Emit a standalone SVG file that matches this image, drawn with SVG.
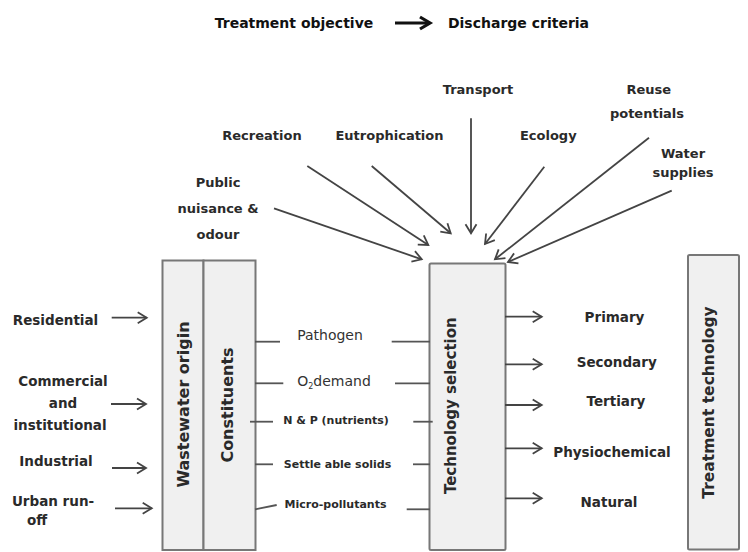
<svg xmlns="http://www.w3.org/2000/svg" width="748" height="552" viewBox="0 0 748 552">
<style>
  text { font-family: "DejaVu Sans", "Liberation Sans", sans-serif; font-weight: bold; fill: #2a2a2a; }
  .title { font-size: 14px; fill: #111; }
  .top { font-size: 13px; text-anchor: middle; }
  .side { font-size: 13.5px; text-anchor: middle; }
  .mid { font-size: 11px; text-anchor: middle; }
  .midn { font-size: 14px; font-weight: normal; text-anchor: middle; fill: #333; }
  .vert { text-anchor: middle; }
  .box { fill: #f0f0f0; stroke: #777; stroke-width: 2; }
  .arr { stroke: #444; stroke-width: 1.8; fill: none; marker-end: url(#head); }
  .ln { stroke: #555; stroke-width: 1.8; fill: none; }
</style>
<defs>
  <marker id="head" markerUnits="userSpaceOnUse" markerWidth="14" markerHeight="14" refX="10" refY="6" orient="auto" viewBox="0 0 14 12">
    <path d="M1,0.5 L10,6 L1,11.5" fill="none" stroke="#444" stroke-width="1.8"/>
  </marker>
  <marker id="bighead" markerUnits="userSpaceOnUse" markerWidth="16" markerHeight="16" refX="12" refY="7" orient="auto" viewBox="0 0 16 14">
    <path d="M2,1 L12,7 L2,13" fill="none" stroke="#111" stroke-width="3.2"/>
  </marker>
</defs>

<g id="title">
  <text class="title" x="294" y="28" text-anchor="middle">Treatment objective</text>
  <line x1="395" y1="23" x2="430" y2="23" stroke="#111" stroke-width="3.2" marker-end="url(#bighead)"/>
  <text class="title" x="518.5" y="28" text-anchor="middle">Discharge criteria</text>
</g>

<g id="node-wastewater-origin">
  <rect class="box" x="162.5" y="260.5" width="41" height="289.5"/>
  <text class="vert" font-size="16" transform="translate(188.5,404.5) rotate(-90)">Wastewater origin</text>
</g>
<g id="node-constituents">
  <rect class="box" x="203.5" y="260.5" width="52" height="289.5"/>
  <text class="vert" font-size="16" transform="translate(232.5,405) rotate(-90)">Constituents</text>
</g>
<g id="node-technology-selection">
  <rect class="box" x="429.5" y="263.5" width="76" height="286.5" rx="1.5"/>
  <text class="vert" font-size="15" transform="translate(456,405.7) rotate(-90)">Technology selection</text>
</g>
<g id="node-treatment-technology">
  <rect class="box" x="688" y="255" width="51" height="294.5" rx="1.5"/>
  <text class="vert" font-size="15.5" transform="translate(714.3,402.5) rotate(-90)">Treatment technology</text>
</g>

<g id="sources">
  <text class="side" x="55.5" y="325">Residential</text>
  <text class="side" x="63" y="386">Commercial</text>
  <text class="side" x="63" y="408">and</text>
  <text class="side" x="60" y="430">institutional</text>
  <text class="side" x="56" y="465.7">Industrial</text>
  <text class="side" x="53" y="505.7">Urban run-</text>
  <text class="side" x="37" y="525">off</text>
</g>

<g id="objectives">
  <text class="top" x="478" y="93.5">Transport</text>
  <text class="top" x="648.8" y="93.7">Reuse</text>
  <text class="top" x="647" y="118">potentials</text>
  <text class="top" x="262" y="139.7">Recreation</text>
  <text class="top" x="389.5" y="139.7">Eutrophication</text>
  <text class="top" x="548.3" y="140.4">Ecology</text>
  <text class="top" x="683" y="158" text-anchor="start">Water</text>
  <text class="top" x="683" y="177.4" text-anchor="start">supplies</text>
  <text class="top" x="218" y="187.4">Public</text>
  <text class="top" x="218" y="213">nuisance &amp;</text>
  <text class="top" x="218" y="238.7">odour</text>
</g>

<g id="constituent-labels">
  <text class="midn" x="330" y="340">Pathogen</text>
  <text class="midn" x="334" y="386">O<tspan font-size="8" dy="3">2</tspan><tspan dy="-3">demand</tspan></text>
  <text class="mid" x="336" y="424">N &amp; P (nutrients)</text>
  <text class="mid" x="337.5" y="467.5">Settle able solids</text>
  <text class="mid" x="335.5" y="507.5">Micro-pollutants</text>
</g>

<g id="technologies">
  <text class="side" x="614.5" y="321.7">Primary</text>
  <text class="side" x="616.7" y="366.7">Secondary</text>
  <text class="side" x="616" y="405.7">Tertiary</text>
  <text class="side" x="612" y="457.3">Physiochemical</text>
  <text class="side" x="609" y="506.7">Natural</text>
</g>

<g id="connectors">
  <line class="arr" x1="111.7" y1="317.7" x2="146.7" y2="317.7"/>
  <line class="arr" x1="111" y1="404" x2="146" y2="404"/>
  <line class="arr" x1="112" y1="468" x2="146" y2="468"/>
  <line class="arr" x1="115" y1="508.3" x2="151.7" y2="508.3"/>

  <line class="arr" x1="274" y1="208.3" x2="421.7" y2="259.3"/>
  <line class="arr" x1="307.3" y1="166" x2="428.3" y2="245"/>
  <line class="arr" x1="371.7" y1="166" x2="450.7" y2="233.3"/>
  <line class="arr" x1="471" y1="118.3" x2="471" y2="233.3"/>
  <line class="arr" x1="544.3" y1="166.7" x2="485" y2="244"/>
  <line class="arr" x1="649" y1="137.7" x2="495" y2="259.3"/>
  <line class="arr" x1="671.7" y1="190.7" x2="508" y2="262"/>

  <line class="ln" x1="255" y1="341.7" x2="280" y2="341.7"/>
  <line class="ln" x1="391.7" y1="341.7" x2="430" y2="341.7"/>
  <line class="ln" x1="255" y1="383.3" x2="283.3" y2="383.3"/>
  <line class="ln" x1="395" y1="383.3" x2="430" y2="383.3"/>
  <line class="ln" x1="250" y1="421.7" x2="273" y2="421.7"/>
  <line class="ln" x1="413.3" y1="421.7" x2="432.7" y2="421.7"/>
  <line class="ln" x1="255" y1="464.3" x2="273" y2="464.3"/>
  <line class="ln" x1="413" y1="464.3" x2="430" y2="464.3"/>
  <line class="ln" x1="255" y1="509.3" x2="276.7" y2="505"/>
  <line class="ln" x1="406.7" y1="509.3" x2="430" y2="509.3"/>

  <line class="arr" x1="505" y1="316.7" x2="541.7" y2="316.7"/>
  <line class="arr" x1="505" y1="364.3" x2="541.7" y2="364.3"/>
  <line class="arr" x1="505" y1="405" x2="541.7" y2="405"/>
  <line class="arr" x1="505" y1="448.3" x2="541.7" y2="448.3"/>
  <line class="arr" x1="505" y1="498.3" x2="541.7" y2="498.3"/>
</g>
</svg>
